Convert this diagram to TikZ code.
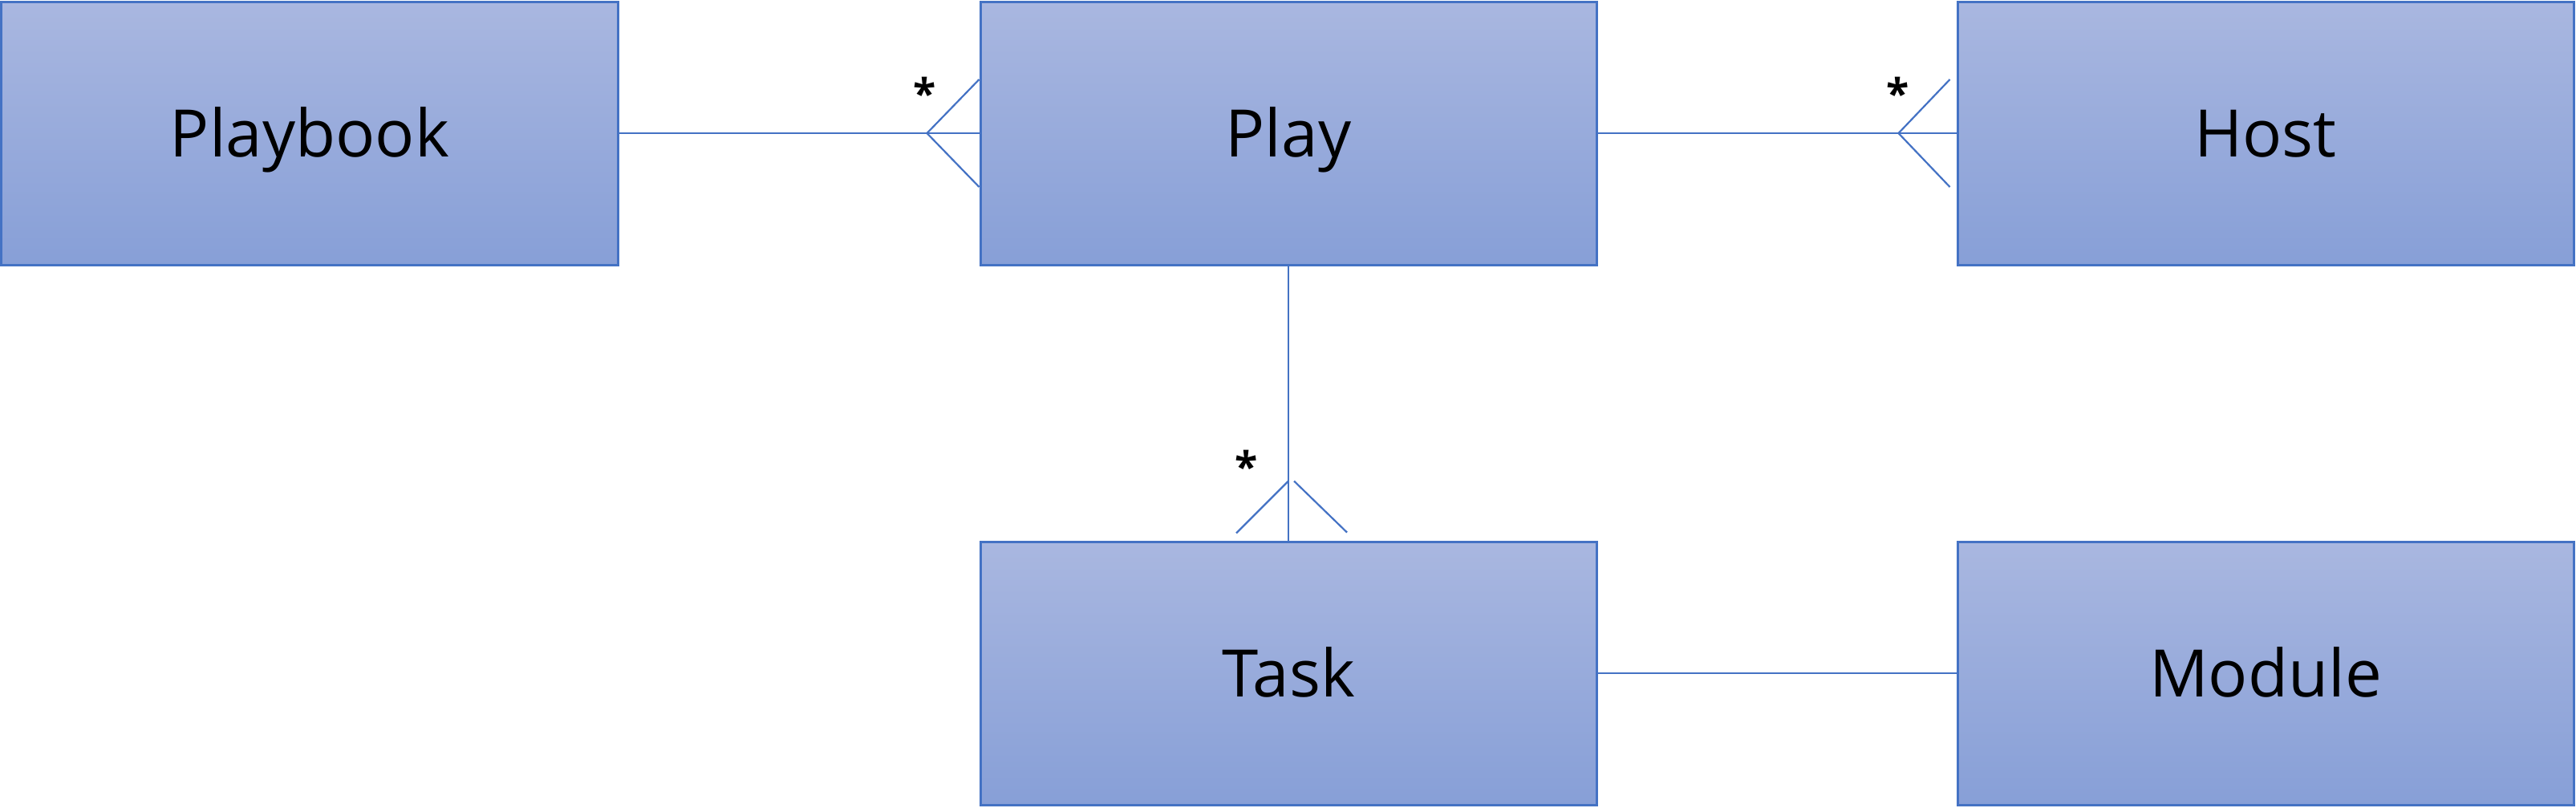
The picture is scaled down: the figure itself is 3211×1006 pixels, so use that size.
\documentclass[tikz,border=0pt]{standalone}
\usepackage{fontspec}
\setmainfont{Open Sans}
\definecolor{edge}{HTML}{4472C4}
\definecolor{topc}{HTML}{A9B7E0}
\definecolor{botc}{HTML}{879FD7}
\tikzset{
  entity/.style={rectangle, draw=edge, line width=1.5bp, top color=topc, bottom color=botc,
    minimum width=384bp, minimum height=164bp, inner sep=0pt, text height=29bp, text depth=-2bp,
    font=\fontsize{41}{48}\selectfont},
  conn/.style={draw=edge, line width=1.1bp},
  mult/.style={inner sep=0pt, font=\fontsize{26}{30}\selectfont\bfseries}
}
\begin{document}
\begin{tikzpicture}[x=0.5bp,y=-0.5bp]
\useasboundingbox (0,0) rectangle (3211,1006);
\node[entity] (playbook) at (386,166) {Playbook};
\node[entity] (play) at (1606,166) {Play};
\node[entity] (host) at (2824,166) {Host};
\node[entity] (task) at (1606,839) {Task};
\node[entity] (module) at (2824,839) {Module};
% connectors
\draw[conn] (playbook.east) -- (play.west);
\coordinate (a1) at ([xshift=-32.5bp]play.west);
\draw[conn] ([yshift=33.5bp]play.west) -- (a1) -- ([yshift=-33.5bp]play.west);
\draw[conn] (play.east) -- (host.west);
\coordinate (a2) at ([xshift=-36bp]host.west);
\draw[conn] ([xshift=-4bp,yshift=33.5bp]host.west) -- (a2) -- ([xshift=-4bp,yshift=-33.5bp]host.west);
\draw[conn] (play.south) -- (task.north);
\coordinate (a3) at ([yshift=37bp]task.north);
\coordinate (a3r) at ([xshift=3.5bp,yshift=37bp]task.north);
\draw[conn] (a3) -- ([xshift=-32.5bp,yshift=4.5bp]task.north);
\draw[conn] (a3r) -- ([xshift=36.5bp,yshift=5bp]task.north);
\draw[conn] (task.east) -- (module.west);
% multiplicities
\node[mult] (m1) at (1153,116) {*};
\node[mult] (m2) at (2366,116) {*};
\node[mult] (m3) at (1554,581) {*};
\end{tikzpicture}
\end{document}
